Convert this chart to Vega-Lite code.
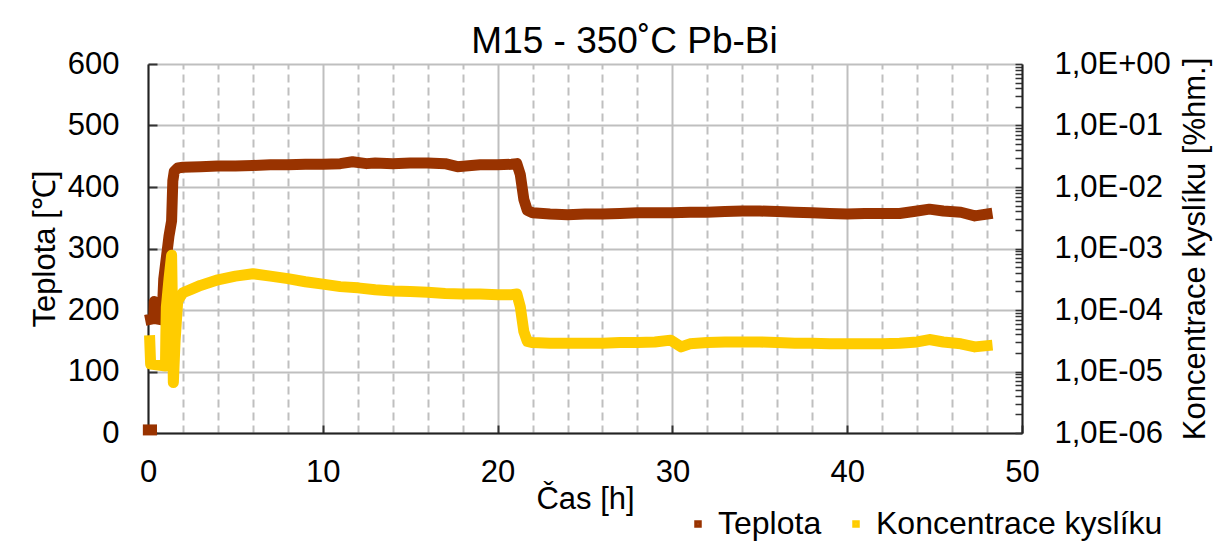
{
  "$schema": "https://vega.github.io/schema/vega-lite/v6.json",
  "width": 874,
  "height": 369,
  "autosize": {"type": "none"},
  "padding": {"left": 148, "top": 64, "right": 207, "bottom": 123},
  "background": "white",
  "config": {
    "view": {"stroke": null},
    "font": "Liberation Sans",
    "axis": {"labelFont": "Liberation Sans", "titleFont": "Liberation Sans", "labelColor": "#000", "titleColor": "#000", "titleFontWeight": "normal", "labelFontSize": 31, "titleFontSize": 31}
  },
  "datasets": {
    "temp": [
      {"t": 0.02, "teplota": 5, "seg": 0}, {"t": 0.2, "teplota": 5, "seg": 0},
      {"t": 0.15, "teplota": 185, "seg": 1}, {"t": 0.33, "teplota": 186, "seg": 1}, {"t": 0.36, "teplota": 214, "seg": 1}, {"t": 0.4, "teplota": 186, "seg": 1}, {"t": 0.8, "teplota": 184, "seg": 1},
      {"t": 0.9, "teplota": 250, "seg": 1}, {"t": 1.05, "teplota": 285, "seg": 1}, {"t": 1.2, "teplota": 320, "seg": 1}, {"t": 1.35, "teplota": 345, "seg": 1}, {"t": 1.42, "teplota": 410, "seg": 1}, {"t": 1.5, "teplota": 425, "seg": 1}, {"t": 1.7, "teplota": 431, "seg": 1},
      {"t": 2, "teplota": 432, "seg": 1}, {"t": 3, "teplota": 433, "seg": 1}, {"t": 4, "teplota": 434, "seg": 1}, {"t": 5, "teplota": 434, "seg": 1}, {"t": 6, "teplota": 435, "seg": 1}, {"t": 7, "teplota": 436, "seg": 1}, {"t": 8, "teplota": 436, "seg": 1}, {"t": 9, "teplota": 437, "seg": 1}, {"t": 10, "teplota": 437, "seg": 1}, {"t": 11, "teplota": 438, "seg": 1}, {"t": 11.7, "teplota": 441, "seg": 1}, {"t": 12.5, "teplota": 438, "seg": 1}, {"t": 13, "teplota": 439, "seg": 1}, {"t": 14, "teplota": 438, "seg": 1}, {"t": 15, "teplota": 439, "seg": 1}, {"t": 16, "teplota": 439, "seg": 1}, {"t": 17, "teplota": 438, "seg": 1}, {"t": 17.7, "teplota": 433, "seg": 1}, {"t": 18.5, "teplota": 435, "seg": 1}, {"t": 19, "teplota": 436, "seg": 1}, {"t": 20, "teplota": 436, "seg": 1}, {"t": 20.8, "teplota": 437, "seg": 1}, {"t": 21.1, "teplota": 438, "seg": 1},
      {"t": 21.3, "teplota": 420, "seg": 1}, {"t": 21.5, "teplota": 380, "seg": 1}, {"t": 21.7, "teplota": 362, "seg": 1}, {"t": 22, "teplota": 358, "seg": 1}, {"t": 23, "teplota": 356, "seg": 1}, {"t": 24, "teplota": 355, "seg": 1}, {"t": 25, "teplota": 356, "seg": 1}, {"t": 26, "teplota": 356, "seg": 1}, {"t": 27, "teplota": 357, "seg": 1}, {"t": 28, "teplota": 358, "seg": 1}, {"t": 29, "teplota": 358, "seg": 1}, {"t": 30, "teplota": 358, "seg": 1}, {"t": 31, "teplota": 359, "seg": 1}, {"t": 32, "teplota": 359, "seg": 1}, {"t": 33, "teplota": 360, "seg": 1}, {"t": 34, "teplota": 361, "seg": 1}, {"t": 35, "teplota": 361, "seg": 1}, {"t": 36, "teplota": 360, "seg": 1}, {"t": 37, "teplota": 359, "seg": 1}, {"t": 38, "teplota": 358, "seg": 1}, {"t": 39, "teplota": 357, "seg": 1}, {"t": 40, "teplota": 356, "seg": 1}, {"t": 41, "teplota": 357, "seg": 1}, {"t": 42, "teplota": 357, "seg": 1}, {"t": 43, "teplota": 357, "seg": 1}, {"t": 44, "teplota": 361, "seg": 1}, {"t": 44.7, "teplota": 364, "seg": 1}, {"t": 45.5, "teplota": 361, "seg": 1}, {"t": 46.5, "teplota": 359, "seg": 1}, {"t": 47.3, "teplota": 353, "seg": 1}, {"t": 48, "teplota": 356, "seg": 1}
    ],
    "o2": [
      {"t": 0.1, "kyslik": 3.162e-5}, {"t": 0.15, "kyslik": 1.318e-5}, {"t": 0.7, "kyslik": 1.259e-5}, {"t": 1.0, "kyslik": 1.23e-5}, {"t": 1.02, "kyslik": 3.631e-5}, {"t": 1.05, "kyslik": 1.122e-4}, {"t": 1.2, "kyslik": 3.162e-4}, {"t": 1.35, "kyslik": 7.762e-4}, {"t": 1.4, "kyslik": 1.0e-4}, {"t": 1.45, "kyslik": 6.607e-6}, {"t": 1.55, "kyslik": 3.162e-5}, {"t": 1.7, "kyslik": 1.413e-4},
      {"t": 2, "kyslik": 1.905e-4}, {"t": 2.5, "kyslik": 2.188e-4}, {"t": 3, "kyslik": 2.512e-4}, {"t": 4, "kyslik": 3.09e-4}, {"t": 5, "kyslik": 3.548e-4}, {"t": 6, "kyslik": 3.89e-4}, {"t": 7, "kyslik": 3.548e-4}, {"t": 8, "kyslik": 3.236e-4}, {"t": 9, "kyslik": 2.884e-4}, {"t": 10, "kyslik": 2.63e-4}, {"t": 11, "kyslik": 2.399e-4}, {"t": 12, "kyslik": 2.291e-4}, {"t": 13, "kyslik": 2.138e-4}, {"t": 14, "kyslik": 2.042e-4}, {"t": 15, "kyslik": 1.995e-4}, {"t": 16, "kyslik": 1.95e-4}, {"t": 17, "kyslik": 1.862e-4}, {"t": 18, "kyslik": 1.82e-4}, {"t": 19, "kyslik": 1.82e-4}, {"t": 20, "kyslik": 1.778e-4}, {"t": 20.8, "kyslik": 1.778e-4}, {"t": 21.1, "kyslik": 1.82e-4},
      {"t": 21.3, "kyslik": 1.122e-4}, {"t": 21.5, "kyslik": 4.467e-5}, {"t": 21.7, "kyslik": 3.09e-5}, {"t": 22, "kyslik": 2.951e-5}, {"t": 23, "kyslik": 2.884e-5}, {"t": 24, "kyslik": 2.884e-5}, {"t": 25, "kyslik": 2.884e-5}, {"t": 26, "kyslik": 2.884e-5}, {"t": 27, "kyslik": 2.951e-5}, {"t": 28, "kyslik": 2.951e-5}, {"t": 29, "kyslik": 3.02e-5}, {"t": 29.9, "kyslik": 3.236e-5}, {"t": 30.5, "kyslik": 2.512e-5}, {"t": 31, "kyslik": 2.818e-5}, {"t": 32, "kyslik": 2.951e-5}, {"t": 33, "kyslik": 3.02e-5}, {"t": 34, "kyslik": 3.02e-5}, {"t": 35, "kyslik": 3.02e-5}, {"t": 36, "kyslik": 2.951e-5}, {"t": 37, "kyslik": 2.884e-5}, {"t": 38, "kyslik": 2.884e-5}, {"t": 39, "kyslik": 2.818e-5}, {"t": 40, "kyslik": 2.818e-5}, {"t": 41, "kyslik": 2.818e-5}, {"t": 42, "kyslik": 2.818e-5}, {"t": 43, "kyslik": 2.884e-5}, {"t": 44, "kyslik": 3.02e-5}, {"t": 44.7, "kyslik": 3.311e-5}, {"t": 45.5, "kyslik": 3.02e-5}, {"t": 46.5, "kyslik": 2.818e-5}, {"t": 47.3, "kyslik": 2.512e-5}, {"t": 48, "kyslik": 2.63e-5}
    ]
  },
  "layer": [
    {
      "data": {"name": "temp"},
      "mark": {"type": "line", "strokeWidth": 11, "strokeCap": "square", "strokeJoin": "round", "clip": false},
      "encoding": {
        "x": {"field": "t", "type": "quantitative", "scale": {"domain": [0, 50], "nice": false},
          "axis": {"values": [0, 10, 20, 30, 40, 50], "title": "Čas [h]", "grid": true, "gridColor": "#bfbfbf", "gridWidth": 2, "tickSize": -8, "tickColor": "#333", "tickWidth": 2, "domainColor": "#222", "domainWidth": 2, "labelPadding": 32, "titlePadding": -3, "labelFlush": false}},
        "y": {"field": "teplota", "type": "quantitative", "scale": {"domain": [0, 600], "nice": false},
          "axis": {"values": [0, 100, 200, 300, 400, 500, 600], "title": "Teplota [℃]", "grid": true, "gridColor": "#bfbfbf", "gridWidth": 2, "tickSize": -9, "tickColor": "#333", "tickWidth": 2, "domainColor": "#222", "domainWidth": 2, "labelPadding": 38, "titlePadding": 6}},
        "detail": {"field": "seg"},
        "color": {"datum": "Teplota", "type": "nominal",
          "scale": {"domain": ["Teplota", "Koncentrace kyslíku"], "range": ["#993300", "#FFCC00"]},
          "legend": {"title": null, "orient": "none", "direction": "horizontal", "legendX": 534, "legendY": 444, "symbolType": "square", "symbolSize": 16, "symbolStrokeWidth": 3.5, "labelFontSize": 32, "labelFont": "Liberation Sans", "labelColor": "#000", "labelOffset": 4, "labelLimit": 500, "columnPadding": 18}}
      }
    },
    {
      "data": {"name": "o2"},
      "mark": {"type": "line", "strokeWidth": 11, "strokeCap": "square", "strokeJoin": "round", "clip": false},
      "encoding": {
        "x": {"field": "t", "type": "quantitative", "scale": {"domain": [0, 50], "nice": false},
          "axis": {"orient": "top", "values": [2, 4, 6, 8, 12, 14, 16, 18, 22, 24, 26, 28, 32, 34, 36, 38, 42, 44, 46, 48], "labels": false, "ticks": false, "domain": false, "grid": true, "gridColor": "#bfbfbf", "gridWidth": 2, "gridDash": [8, 5],
            "title": "M15 - 350˚C Pb-Bi", "titleFontSize": 37, "titleX": 476, "titleY": -12, "titleAlign": "center", "titleBaseline": "alphabetic", "titleAngle": 0}},
        "y": {"field": "kyslik", "type": "quantitative", "scale": {"type": "log", "domain": [1e-6, 1], "nice": false},
          "axis": {"orient": "right", "title": "Koncentrace kyslíku [%hm.]", "titleAngle": 270, "grid": false,
            "values": [1e-6, 2e-6, 3e-6, 4e-6, 5e-6, 6e-6, 7e-6, 8e-6, 9e-6, 1e-5, 2e-5, 3e-5, 4e-5, 5e-5, 6e-5, 7e-5, 8e-5, 9e-5, 1e-4, 2e-4, 3e-4, 4e-4, 5e-4, 6e-4, 7e-4, 8e-4, 9e-4, 1e-3, 2e-3, 3e-3, 4e-3, 5e-3, 6e-3, 7e-3, 8e-3, 9e-3, 0.01, 0.02, 0.03, 0.04, 0.05, 0.06, 0.07, 0.08, 0.09, 0.1, 0.2, 0.3, 0.4, 0.5, 0.6, 0.7, 0.8, 0.9, 1],
            "labelExpr": "abs(log(datum.value)/LN10 - round(log(datum.value)/LN10)) < 0.001 ? (datum.value >= 0.999 ? '1,0E+00' : '1,0E-0' + round(-log(datum.value)/LN10)) : ''",
            "labelOverlap": false, "labelFlush": false, "tickSize": -7, "tickColor": "#333", "tickWidth": 1.5, "domainColor": "#222", "domainWidth": 2, "labelPadding": 39, "titlePadding": 41}},
        "color": {"datum": "Koncentrace kyslíku", "type": "nominal"}
      }
    }
  ],
  "resolve": {"scale": {"x": "independent", "y": "independent"}}
}
